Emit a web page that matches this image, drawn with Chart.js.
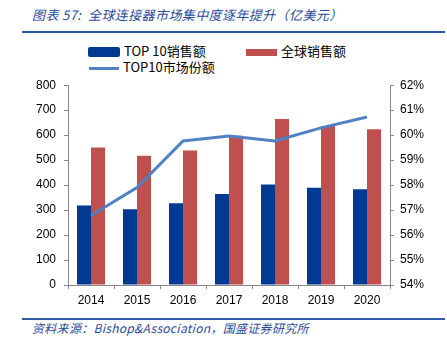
<!DOCTYPE html>
<html>
<head>
<meta charset="utf-8">
<script src="https://cdn.jsdelivr.net/npm/chart.js@4.4.0/dist/chart.umd.min.js"></script>
<style>
  body { margin: 0; background: #fff; width: 447px; height: 353px; position: relative; overflow: hidden; font-family: "Liberation Sans", Arial, sans-serif; }
  .title { position: absolute; left: 32px; top: 5px; color: #2a4a9a; font-style: italic; font-size: 13px; font-family: "Noto Sans CJK SC", sans-serif; letter-spacing: 0.4px; white-space: nowrap; }
  .rule { position: absolute; left: 22px; width: 423px; height: 2px; background: #2f5aa8; }
  .legend { position: absolute; font-size: 13px; color: #000; white-space: nowrap; font-family: "Noto Sans CJK SC", sans-serif; }
  .legend span.box { display: inline-block; vertical-align: middle; margin-right: 4px; }
  .source { position: absolute; left: 32px; top: 319px; color: #2a4a9a; font-style: italic; font-size: 12px; font-family: "Noto Sans CJK SC", sans-serif; letter-spacing: 0.3px; white-space: nowrap; }
  #wrap { position: absolute; left: 0; top: 70px; width: 447px; height: 245px; }
</style>
</head>
<body>
<div class="title">图表 57:&nbsp; 全球连接器市场集中度逐年提升（亿美元）</div>
<div class="rule" style="top:31px"></div>

<div class="legend" style="left:88px; top:41px;"><span class="box" style="width:32px;height:10px;background:#003a93;border-radius:2px"></span>TOP 10销售额</div>
<div class="legend" style="left:246px; top:41px;"><span class="box" style="width:31px;height:7px;background:#c0504d"></span>全球销售额</div>
<div class="legend" style="left:89px; top:57px;"><span class="box" style="width:30px;height:3px;background:#4f81c4"></span>TOP10市场份额</div>

<div id="wrap"><canvas id="c"></canvas></div>

<div class="rule" style="top:318px"></div>
<div class="source">资料来源：Bishop&amp;Association，国盛证券研究所</div>

<script>
var years = ["2014", "2015", "2016", "2017", "2018", "2019", "2020"];
var top10Sales = [318, 303, 327, 364, 402, 389, 383];
var globalSales = [551, 518, 539, 598, 665, 637, 624];
var top10Share = [56.78, 57.9, 59.77, 59.97, 59.77, 60.29, 60.73];

var ctx = document.getElementById("c");
var chart = new Chart(ctx, {
  type: "bar",
  data: {
    labels: years,
    datasets: [
      {
        label: "TOP 10销售额",
        data: top10Sales,
        backgroundColor: "#003a93",
        yAxisID: "y",
        order: 2
      },
      {
        label: "全球销售额",
        data: globalSales,
        backgroundColor: "#c0504d",
        yAxisID: "y",
        order: 2
      },
      {
        type: "line",
        label: "TOP10市场份额",
        data: top10Share,
        borderColor: "#4f81c4",
        borderWidth: 3,
        pointRadius: 0,
        tension: 0,
        yAxisID: "y1",
        order: 0
      }
    ]
  },
  options: {
    responsive: true,
    maintainAspectRatio: false,
    animation: false,
    layout: { padding: { top: 11, left: 0, right: 0, bottom: 0 } },
    plugins: { legend: { display: false }, tooltip: { enabled: false } },
    datasets: { bar: { categoryPercentage: 0.61, barPercentage: 1 } },
    scales: {
      x: {
        grid: { drawOnChartArea: false, tickLength: 4, color: "#888" },
        border: { color: "#888" },
        ticks: { color: "#000", font: { size: 12, family: "Liberation Sans" }, padding: 4 },
        afterFit: function (s) { s.height = 30; }
      },
      y: {
        position: "left",
        min: 0, max: 800,
        ticks: { stepSize: 100, color: "#000", font: { size: 12, family: "Liberation Sans" }, padding: 8 },
        grid: { drawOnChartArea: false, tickLength: 4, color: "#888" },
        border: { color: "#888" },
        afterFit: function (s) { s.width = 68; }
      },
      y1: {
        position: "right",
        min: 54, max: 62,
        ticks: {
          stepSize: 1, color: "#000", font: { size: 12, family: "Liberation Sans" }, padding: 6,
          callback: function (v) { return v + "%"; }
        },
        grid: { drawOnChartArea: false, tickLength: 4, color: "#888" },
        border: { color: "#888" },
        afterFit: function (s) { s.width = 57; }
      }
    }
  }
});
</script>
</body>
</html>
